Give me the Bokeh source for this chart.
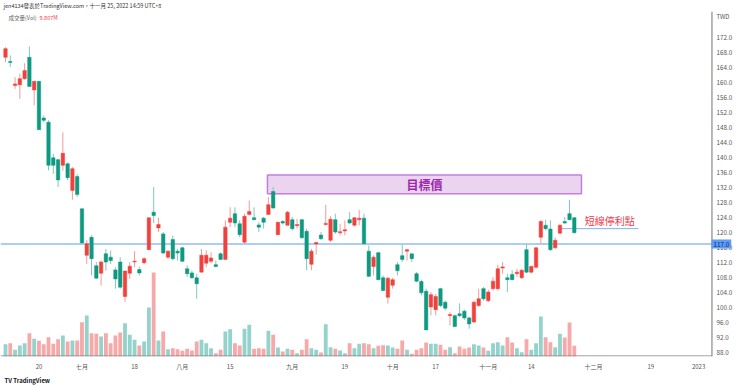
from bokeh.plotting import figure
from bokeh.models import (Range1d, Label, Title, FixedTicker, PrintfTickFormatter,
                          ColumnDataSource)
from bokeh.core.properties import value
from bokeh.embed import file_html
from bokeh.resources import INLINE

# ---- data ----
opens = [166.8, 165.7, 159.3, 159.5, 161.1, 166.8, 158.1, 160.4, 150.6, 149.5,
         140.0, 139.5, 138.0, 138.4, 131.3, 135.0, 126.4, 114.0, 118.8, 111.2,
         109.2, 114.4, 113.5, 110.1, 112.2, 103.0, 109.2, 112.2, 110.2, 112.0,
         115.5, 125.5, 121.3, 119.7, 113.5, 118.2, 115.1, 116.0, 110.4, 109.3,
         108.0, 109.5, 111.9, 112.4, 111.5, 114.4, 112.9, 122.8, 125.1, 122.4,
         117.5, 124.9, 124.0, 122.1, 123.9, 124.9, 131.0, 119.5, 123.0, 122.0,
         123.5, 121.9, 123.5, 120.4, 111.6, 117.0, 119.4, 122.2, 118.0, 123.5,
         120.0, 120.5, 123.5, 122.0, 123.5, 123.9, 115.1, 111.0, 114.7, 108.0,
         102.8, 106.0, 111.5, 113.9, 115.1, 114.4, 109.1, 107.0, 104.4, 100.2,
         99.5, 105.1, 101.5, 97.9, 97.9, 98.4, 99.1, 97.3, 96.2, 100.6,
         105.1, 101.9, 105.1, 105.1, 110.6, 108.0, 108.9, 109.1, 108.0, 115.5,
         109.5, 110.8, 118.8, 122.0, 121.0, 116.0, 119.9, 123.0, 125.1, 124.0]
highs = [169.5, 167.3, 161.5, 162.4, 165.2, 169.7, 160.4, 160.4, 151.3, 150.0,
         141.1, 139.7, 146.8, 138.8, 137.5, 135.7, 126.4, 118.0, 119.3, 112.2,
         112.6, 115.7, 115.3, 110.8, 113.5, 109.8, 112.2, 115.1, 111.0, 113.5,
         124.0, 132.2, 124.0, 120.2, 115.3, 119.3, 115.7, 116.2, 111.3, 109.9,
         109.0, 115.7, 115.3, 114.8, 112.6, 114.8, 123.3, 126.8, 126.8, 123.3,
         125.1, 128.6, 126.8, 122.8, 124.2, 129.5, 132.2, 122.8, 123.4, 125.8,
         124.2, 123.7, 123.7, 121.1, 115.7, 117.6, 120.2, 127.5, 124.4, 125.1,
         122.4, 123.3, 125.5, 124.2, 126.1, 125.1, 116.6, 114.0, 114.9, 108.6,
         108.2, 108.0, 112.2, 116.9, 115.7, 114.4, 109.5, 107.5, 105.1, 104.2,
         103.7, 105.3, 101.9, 98.8, 98.2, 101.2, 99.5, 97.7, 101.9, 105.1,
         105.5, 104.8, 108.2, 111.5, 112.2, 109.1, 110.0, 110.4, 110.4, 116.9,
         111.3, 116.2, 123.5, 123.5, 123.3, 118.8, 122.4, 124.2, 128.8, 124.2]
lows = [165.5, 164.2, 158.4, 155.7, 160.8, 159.0, 154.0, 147.5, 149.5, 136.6,
        135.7, 132.2, 136.6, 134.0, 128.8, 129.5, 117.3, 111.7, 108.6, 107.7,
        105.9, 109.9, 111.7, 105.1, 105.1, 101.5, 107.7, 110.8, 108.6, 111.6,
        115.5, 122.6, 120.2, 114.4, 113.0, 112.6, 112.6, 112.2, 108.2, 107.7,
        102.4, 109.5, 110.8, 111.9, 110.8, 112.8, 112.9, 121.5, 121.5, 118.8,
        117.1, 124.6, 123.3, 120.2, 121.1, 124.9, 126.4, 119.5, 122.2, 122.0,
        120.6, 121.1, 118.4, 110.0, 110.0, 114.2, 118.1, 121.9, 117.5, 119.7,
        119.3, 119.3, 122.4, 121.7, 122.0, 116.9, 108.2, 108.6, 107.3, 104.4,
        101.1, 105.1, 108.6, 112.2, 112.6, 112.2, 106.8, 103.3, 94.1, 98.0,
        98.0, 100.2, 99.3, 95.3, 94.8, 97.5, 96.8, 94.4, 95.9, 100.2,
        101.9, 101.5, 104.6, 104.6, 109.1, 104.2, 107.3, 108.2, 107.7, 109.3,
        109.1, 110.4, 117.1, 120.6, 115.1, 115.7, 119.7, 122.4, 123.3, 119.9]
closes = [169.1, 165.4, 159.7, 161.1, 163.3, 159.0, 160.4, 147.5, 150.0, 138.0,
          138.0, 134.1, 141.2, 134.7, 137.1, 130.2, 117.3, 117.1, 113.1, 107.9,
          112.2, 112.2, 112.6, 107.7, 105.5, 109.8, 111.1, 112.4, 109.3, 113.1,
          124.0, 124.6, 122.2, 114.6, 115.1, 113.1, 114.6, 112.4, 109.1, 108.0,
          106.4, 114.0, 114.0, 113.3, 111.0, 112.9, 121.5, 123.9, 122.6, 119.5,
          124.4, 125.7, 123.5, 121.5, 122.8, 127.5, 126.6, 122.8, 122.6, 125.5,
          121.1, 122.2, 118.7, 113.1, 115.1, 117.4, 118.4, 122.5, 123.6, 120.2,
          120.3, 120.8, 122.6, 124.0, 123.9, 117.1, 108.4, 113.5, 107.5, 104.6,
          107.9, 107.5, 109.9, 112.9, 115.5, 113.1, 107.1, 104.0, 94.1, 103.5,
          103.0, 100.6, 99.9, 98.2, 95.0, 97.9, 97.3, 95.7, 101.5, 102.4,
          102.4, 104.2, 107.1, 110.4, 110.9, 107.5, 107.5, 109.5, 110.0, 109.5,
          111.0, 116.0, 123.0, 121.1, 115.5, 118.0, 122.0, 122.6, 123.5, 120.0]
volumes_m = [11.3, 12.2, 6.1, 10.1, 12.2, 21.4, 16.2, 14.4, 11.3, 17.7,
             11.6, 15.9, 19.3, 13.8, 14.7, 14.7, 31.5, 37.6, 21.4, 20.8,
             18.3, 21.4, 12.2, 19.3, 22.0, 30.5, 19.9, 15.3, 10.1, 13.8,
             44.9, 77.0, 14.7, 22.9, 6.7, 7.6, 6.7, 5.2, 7.1, 5.5,
             13.8, 15.3, 12.2, 7.6, 3.0, 6.1, 22.9, 25.0, 12.2, 10.1,
             25.4, 29.1, 7.1, 7.6, 7.1, 23.6, 19.9, 8.3, 4.6, 7.1,
             6.1, 3.0, 6.1, 15.9, 7.6, 6.1, 3.7, 29.6, 8.5, 7.1,
             5.5, 3.0, 12.2, 7.6, 11.6, 12.2, 11.3, 7.6, 9.8, 10.4,
             10.1, 8.3, 7.1, 14.7, 6.1, 2.5, 6.1, 7.6, 12.8, 11.6,
             11.6, 10.7, 6.1, 8.5, 3.0, 9.2, 7.1, 8.3, 11.3, 10.1,
             8.3, 5.2, 12.2, 13.1, 10.1, 17.7, 12.8, 7.6, 3.9, 15.9,
             6.1, 12.2, 36.7, 17.7, 13.1, 8.5, 20.8, 17.4, 31.2, 9.807]

date_tick_index = [7, 16, 27, 37, 47, 60, 71, 81, 90, 101, 110, 123, 135, 145]
date_tick_labels = ["20", "七月", "18", "八月", "15", "九月", "19", "十月", "17",
                    "十一月", "14", "十二月", "19", "2023"]
price_ticks = list(range(88, 173, 4))

support_level = 117.0
stop_level = 121.1
stop_from, stop_to = 116.1, 132.4
target_low, target_high = 130.4, 135.4
target_from, target_to = 54.8, 120.5
price_scale_edge = 147.8   # bar position where the price scale begins

header_text = "jen4134發表於TradingView.com，十一月 25, 2022 14:59 UTC+8"
vol_title = "成交量(Vol)"
vol_last = "9.807M"

# ---- styling ----
UP = "#f0413c"
DOWN = "#0e9981"
UP_WICK = "#f39a97"
DOWN_WICK = "#7ccabd"
VOL_UP = "#93d3cb"
VOL_DOWN = "#f6a9a9"
CJK = "Noto Sans CJK TC"
AXIS_GREY = "#8a8a8a"

n = len(opens)
idx = list(range(n))
is_up = [c >= o for o, c in zip(opens, closes)]
src = ColumnDataSource(dict(
    x=idx, o=opens, h=highs, l=lows, c=closes, v=volumes_m,
    top=[max(o, c) for o, c in zip(opens, closes)],
    bot=[min(o, c) for o, c in zip(opens, closes)],
    body=[UP if u else DOWN for u in is_up],
    wick=[UP_WICK if u else DOWN_WICK for u in is_up],
    vcol=[VOL_UP if u else VOL_DOWN for u in is_up],
))

x_start, x_end = -1.046, 153.77
y_start, y_end = 87.0, 181.95
p = figure(width=740, height=385, x_range=Range1d(x_start, x_end),
           y_range=Range1d(y_start, y_end), y_axis_location="right",
           output_backend="svg", toolbar_location=None,
           min_border_left=0, min_border_top=0, min_border_right=0,
           min_border_bottom=29)
p.outline_line_color = None
p.xgrid.visible = False
p.ygrid.visible = False
p.background_fill_color = "white"
p.border_fill_color = "white"

# volume on its own scale
p.extra_y_ranges = {"vol": Range1d(0, 326.5)}
p.vbar(x="x", top="v", bottom=0, width=0.8, fill_color="vcol", line_color=None,
       source=src, y_range_name="vol")

# target box
p.quad(left=[target_from], right=[target_to], bottom=[target_low], top=[target_high],
       fill_color="#9c27b0", fill_alpha=0.2, line_color="#c47fda", line_width=1.5)
p.text(x=[(target_from + target_to) / 2], y=[(target_low + target_high) / 2],
       text=["目標價"], text_font=value(CJK), text_font_size="12px",
       text_font_style="bold", text_color="#9c27b0", text_align="center",
       text_baseline="middle")

# support line (stops at the price scale)
p.segment(x0=[x_start], x1=[price_scale_edge], y0=[support_level], y1=[support_level],
          line_color="#8fbcf5", line_width=1.5)

# short-term stop line
p.segment(x0=[stop_from], x1=[stop_to], y0=[stop_level], y1=[stop_level],
          line_color="#7fb0f0", line_width=1)
p.text(x=[126.4], y=[123.3], text=["短線停利點"],
       text_font=value(CJK), text_font_size="10px", text_color="#f23645",
       text_align="center", text_baseline="middle")

# candles
p.segment(x0="x", x1="x", y0="l", y1="h", line_color="wick", line_width=1, source=src)
p.vbar(x="x", top="top", bottom="bot", width=0.72, fill_color="body",
       line_color="body", line_width=0.5, source=src)

# price-scale separator and time-scale border
p.segment(x0=[price_scale_edge], x1=[price_scale_edge], y0=[y_start], y1=[y_end - 3.0],
          line_color=AXIS_GREY, line_width=1.2)
p.segment(x0=[x_start], x1=[price_scale_edge], y0=[y_start + 0.15], y1=[y_start + 0.15],
          line_color=AXIS_GREY, line_width=1)

# axes
ya = p.yaxis[0]
ya.ticker = FixedTicker(ticks=price_ticks)
ya.formatter = PrintfTickFormatter(format="%.1f")
ya.major_tick_line_color = None
ya.minor_tick_line_color = None
ya.major_tick_out = 0
ya.major_tick_in = 0
ya.major_label_standoff = -24
ya.axis_line_color = None
ya.major_label_text_font = CJK
ya.major_label_text_font_size = "6.3px"
ya.major_label_text_color = "#555555"

xa = p.xaxis[0]
xa.ticker = FixedTicker(ticks=date_tick_index)
xa.major_label_overrides = {i: t for i, t in zip(date_tick_index, date_tick_labels)}
xa.major_tick_line_color = None
xa.minor_tick_line_color = None
xa.major_tick_out = 0
xa.major_label_standoff = 5
xa.axis_line_color = None
xa.major_label_text_font = CJK
xa.major_label_text_font_size = "6px"
xa.major_label_text_color = "#555555"

# TradingView mark below the time axis
p.add_layout(Title(text="TV TradingView", align="left", text_font=CJK,
                   text_font_size="6px", text_font_style="bold", text_color="#131722",
                   standoff=1, offset=4), "below")

# price label for support line
p.add_layout(Label(x=711, y=support_level, x_units="screen", text="117.0",
                   text_font=CJK, text_font_size="6.3px", text_color="#0d2560",
                   text_baseline="middle", background_fill_color="#5b9cf6",
                   padding=2))

# header texts
p.add_layout(Label(x=3, y=180.6, x_units="screen", text=header_text, text_font=CJK,
                   text_font_size="5.5px", text_color="#333333", text_baseline="middle"))
p.add_layout(Label(x=8, y=177.15, x_units="screen", text=vol_title, text_font=CJK,
                   text_font_size="5.5px", text_color="#666666", text_baseline="middle"))
p.add_layout(Label(x=39, y=177.15, x_units="screen", text=vol_last, text_font=CJK,
                   text_font_size="5.5px", text_color="#f23645", text_baseline="middle"))
p.add_layout(Label(x=716, y=177.7, x_units="screen", text="TWD", text_font=CJK,
                   text_font_size="6px", text_color="#555555", text_baseline="middle"))

open("out.html", "w").write(file_html(p, INLINE))
